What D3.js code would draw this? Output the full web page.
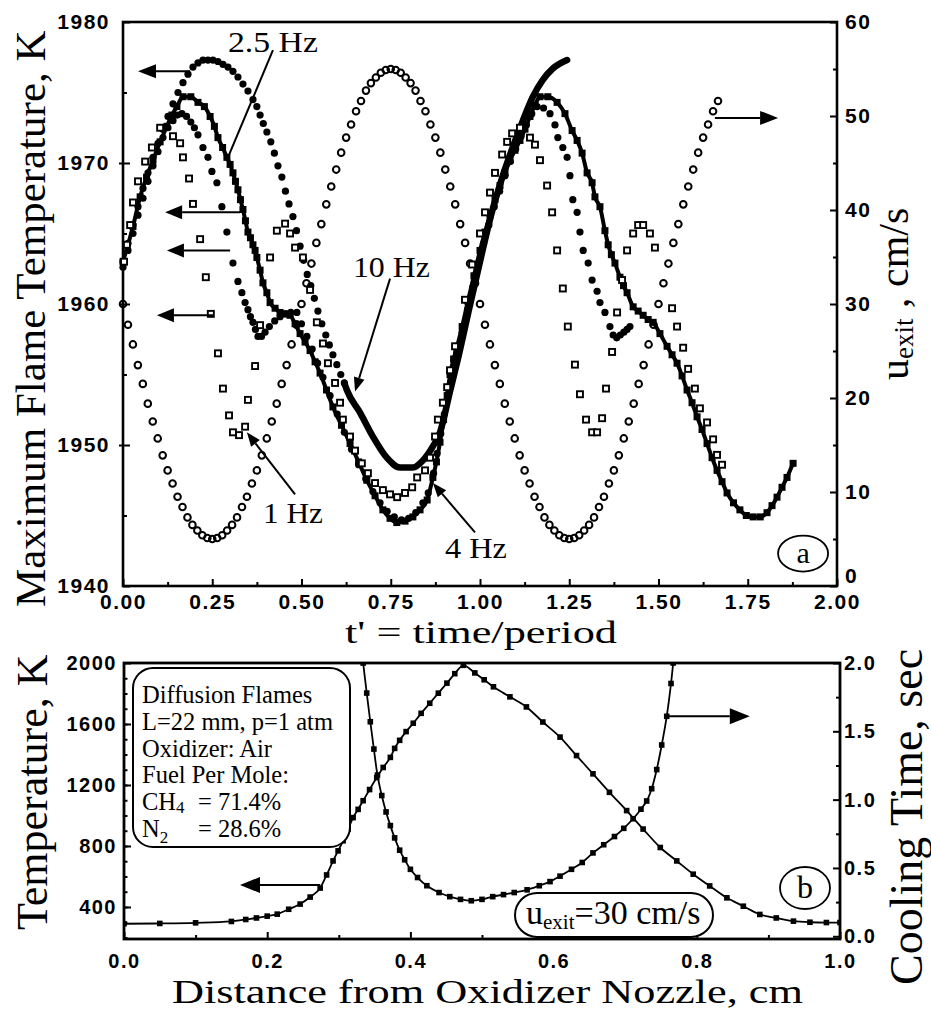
<!DOCTYPE html>
<html>
<head>
<meta charset="utf-8">
<script src="https://cdnjs.cloudflare.com/ajax/libs/d3/7.8.5/d3.min.js"></script>
<style>
  body { margin: 0; background: #fff; }
  svg text { fill: #000; }
</style>
</head>
<body>
<script>
// ---------- panel (a) data ----------
// exit velocity, open circles (right axis), sampled every 1/72 of a period
const uExitStep = 1 / 72;
const uExit = [30.0,27.8,25.7,23.5,21.5,19.4,17.5,15.7,13.9,12.3,10.9,9.5,8.4,7.3,6.5,5.9,5.4,5.1,5.0,
  5.1,5.4,5.9,6.5,7.3,8.4,9.5,10.9,12.3,13.9,15.7,17.5,19.4,21.5,23.5,25.7,27.8,30.0,
  32.2,34.3,36.5,38.5,40.6,42.5,44.3,46.1,47.7,49.1,50.5,51.6,52.7,53.5,54.1,54.6,54.9,55.0,
  54.9,54.6,54.1,53.5,52.7,51.6,50.5,49.1,47.7,46.1,44.3,42.5,40.6,38.5,36.5,34.3,32.2,
  30.0,27.8,25.7,23.5,21.5,19.4,17.5,15.7,13.9,12.3,10.9,9.5,8.4,7.3,6.5,5.9,5.4,5.1,5.0,
  5.1,5.4,5.9,6.5,7.3,8.4,9.5,10.9,12.3,13.9,15.7,17.5,19.4,21.5,23.5,25.7,27.8,30.0,
  32.2,34.3,36.5,38.5,40.6,42.5,44.3,46.1,47.7,49.1,50.5,51.6];

// 1 Hz, open squares  [t', T]
const hz1 = [[.003,1963.0],[.011,1964.2],[.020,1965.6],[.028,1967.2],[.042,1968.7],[.062,1970.1],[.081,1971.1],[.104,1972.5],
  [.140,1971.9],[.160,1971.4],[.168,1970.4],[.185,1968.9],[.196,1967.1],[.216,1964.6],[.232,1961.9],[.246,1959.3],
  [.266,1956.5],[.280,1954.0],[.297,1952.1],[.308,1950.9],[.325,1950.7],[.342,1951.3],[.350,1953.2],[.370,1955.6],
  [.384,1958.5],[.412,1963.3],[.431,1965.2],[.454,1965.7],[.468,1965.0],[.482,1964.0],[.504,1963.3],[.524,1961.0],
  [.543,1958.7],[.560,1957.2],[.574,1955.8],[.594,1954.4],[.608,1953.0],[.616,1951.8],[.636,1950.6],[.650,1949.6],
  [.669,1948.7],[.686,1948.0],[.706,1947.3],[.728,1946.8],[.748,1946.5],[.768,1946.3],[.790,1946.6],[.810,1947.0],
  [.824,1947.7],[.846,1948.2],[.860,1949.1],[.874,1950.6],[.882,1951.8],[.896,1953.0],[.908,1954.1],[.916,1955.3],
  [.930,1957.0],[.958,1960.3],[.978,1962.8],[1.000,1965.0],[1.014,1966.5],[1.028,1967.9],[1.042,1969.3],[1.062,1970.6],
  [1.076,1971.5],[1.090,1972.1],[1.112,1972.5],[1.140,1971.8],[1.154,1971.3],[1.168,1970.2],[1.188,1968.4],[1.202,1966.5],
  [1.216,1963.8],[1.232,1961.1],[1.246,1958.4],[1.266,1955.7],[1.280,1953.6],[1.297,1951.8],[1.314,1950.9],[1.328,1950.9],
  [1.342,1951.9],[1.353,1954.0],[1.370,1956.6],[1.384,1959.4],[1.398,1961.7],[1.412,1963.8],[1.429,1965.0],[1.443,1965.6],
  [1.457,1965.6],[1.476,1965.0],[1.490,1964.0],[1.538,1959.7],[1.552,1958.4],[1.569,1956.9],[1.583,1955.4],[1.602,1954.0],
  [1.616,1952.6],[1.636,1951.6],[1.653,1950.4],[1.664,1949.3],[1.678,1948.6]];

// 2.5 Hz, filled circles
const hz25 = [[0,1962.6],[.014,1963.8],[.028,1965.0],[.042,1966.3],[.056,1967.5],[.07,1968.7],[.084,1969.8],[.098,1970.8],
  [.112,1971.8],[.126,1972.5],[.14,1973.0],[.152,1973.4],[.165,1973.5],[.178,1973.3],[.19,1972.9],[.2,1972.5],[.21,1972.0],
  [.224,1971.1],[.238,1970.4],[.249,1969.4],[.263,1968.6],[.277,1966.9],[.291,1965.1],[.308,1962.9],[.322,1961.6],
  [.333,1960.8],[.342,1960.1],[.35,1959.6],[.357,1959.1],[.364,1958.7],[.371,1958.2],[.378,1957.7],[.388,1957.7],
  [.398,1958.0],[.41,1958.4],[.425,1958.8],[.44,1959.1],[.455,1959.3],[.47,1959.4],[.487,1959.4],[.5,1958.6],[.515,1957.7],
  [.53,1956.8],[.545,1955.8],[.56,1954.8],[.58,1953.5],[.6,1952.2],[.62,1950.9],[.64,1949.7],[.66,1948.6],[.68,1947.6],
  [.7,1946.7],[.72,1945.9],[.74,1945.3],[.76,1944.9],[.78,1944.7],[.8,1944.8],[.82,1945.2],[.84,1945.9],[.855,1946.6],
  [.87,1948.0],[.88,1949.4],[.89,1950.8],[.9,1952.2],[.91,1953.6],[.92,1955.0],[.935,1956.6],[.95,1958.0],[.965,1959.6],
  [.98,1961.2],[.995,1962.8],[1.01,1964.3],[1.025,1965.6],[1.04,1966.9],[1.055,1968.0],[1.07,1969.1],[1.085,1970.1],
  [1.1,1971.0],[1.115,1971.9],[1.13,1972.7],[1.145,1973.5],[1.16,1974.0],[1.178,1973.9],[1.196,1973.5],[1.21,1972.7],
  [1.218,1971.8],[1.232,1971.1],[1.244,1970.4],[1.252,1969.1],[1.26,1967.4],[1.272,1966.5],[1.28,1965.1],[1.289,1963.8],
  [1.303,1962.9],[1.314,1961.7],[1.328,1960.9],[1.336,1960.1],[1.35,1959.4],[1.364,1958.4],[1.373,1957.8],[1.383,1957.6],
  [1.393,1957.8],[1.403,1958.0],[1.412,1958.2],[1.42,1958.4]];

// 4 Hz, filled squares
const hz4 = [[0,1963.0],[.028,1965.5],[.048,1967.6],[.066,1969.0],[.084,1970.2],[.104,1971.5],[.123,1972.6],[.137,1973.4],
  [.151,1974.0],[.168,1974.7],[.19,1974.7],[.21,1974.3],[.228,1974.0],[.244,1973.3],[.256,1972.6],[.266,1971.8],[.279,1971.1],
  [.291,1970.4],[.3,1969.9],[.308,1969.3],[.315,1968.7],[.322,1968.1],[.329,1967.4],[.336,1966.7],[.343,1965.9],[.35,1965.1],
  [.357,1964.7],[.364,1964.2],[.37,1963.8],[.375,1963.3],[.384,1962.4],[.392,1961.5],[.403,1960.8],[.412,1960.1],
  [.426,1959.7],[.44,1959.4],[.454,1959.3],[.468,1959.2],[.482,1958.6],[.496,1957.9],[.51,1957.3],[.524,1956.7],
  [.538,1955.9],[.552,1955.1],[.57,1953.9],[.588,1952.7],[.612,1951.4],[.636,1950.1],[.66,1948.8],[.683,1947.5],
  [.706,1946.4],[.728,1945.4],[.748,1944.8],[.767,1944.5],[.79,1944.6],[.812,1944.9],[.832,1945.4],[.852,1946.1],
  [.868,1947.7],[.878,1948.8],[.888,1950.2],[.898,1951.8],[.908,1953.5],[.916,1955.0],[.926,1956.1],[.936,1957.0],
  [.95,1958.4],[.966,1960.2],[.983,1962.0],[1.0,1963.8],[1.014,1965.1],[1.028,1966.3],[1.042,1967.4],[1.056,1968.4],
  [1.07,1969.3],[1.084,1970.2],[1.098,1970.9],[1.112,1971.6],[1.126,1972.4],[1.14,1973.3],[1.154,1974.1],[1.168,1974.7],
  [1.19,1974.7],[1.216,1974.3],[1.238,1973.5],[1.258,1972.3],[1.272,1971.6],[1.286,1970.7],[1.3,1969.3],[1.314,1968.6],
  [1.322,1967.6],[1.336,1966.9],[1.35,1965.2],[1.359,1964.2],[1.368,1963.5],[1.378,1962.9],[1.392,1961.9],[1.402,1961.3],
  [1.412,1960.8],[1.429,1959.8],[1.443,1959.5],[1.457,1959.2],[1.471,1958.9],[1.485,1958.7],[1.504,1957.9],[1.524,1957.0],
  [1.538,1956.4],[1.552,1955.8],[1.566,1954.9],[1.58,1953.9],[1.594,1953.0],[1.608,1952.0],[1.622,1951.1],[1.636,1950.1],
  [1.65,1949.1],[1.664,1948.2],[1.678,1947.4],[1.692,1946.6],[1.71,1945.9],[1.728,1945.4],[1.746,1945.0],[1.765,1944.9],
  [1.785,1944.9],[1.804,1945.2],[1.818,1945.7],[1.832,1946.3],[1.846,1947.0],[1.86,1947.7],[1.877,1948.7]];

// 10 Hz: dotted part (first half) and the dense part drawn as a heavy line
const hz10Dots = [[0,1963.0],[.014,1964.3],[.028,1965.6],[.042,1966.9],[.056,1968.2],[.07,1969.3],[.084,1970.4],[.098,1971.4],
  [.112,1972.4],[.126,1973.3],[.14,1974.2],[.154,1975.0],[.168,1975.7],[.182,1976.3],[.196,1976.8],[.21,1977.1],[.224,1977.3],
  [.238,1977.3],[.252,1977.3],[.266,1977.2],[.28,1977.0],[.294,1976.8],[.308,1976.5],[.322,1976.1],[.336,1975.6],[.35,1975.1],
  [.364,1974.5],[.375,1974.0],[.384,1973.4],[.393,1972.8],[.403,1972.2],[.414,1971.5],[.424,1970.7],[.434,1969.8],
  [.445,1969.0],[.455,1968.0],[.465,1967.1],[.476,1966.2],[.486,1965.2],[.496,1964.1],[.506,1963.1],[.516,1962.1],
  [.526,1961.3],[.536,1960.4],[.546,1959.5],[.557,1958.6],[.568,1957.8],[.578,1957.1],[.588,1956.4],[.599,1955.7],
  [.61,1955.0],[.62,1954.4]];
const hz10Line = [[.62,1954.4],[.627,1953.9],[.664,1952.3],[.70,1950.6],[.739,1949.1],[.776,1948.4],[.812,1948.4],[.84,1948.9],
  [.868,1949.9],[.888,1950.9],[.916,1953.8],[.94,1956.3],[.97,1959.7],[1.0,1963.0],[1.03,1966.2],[1.06,1968.8],[1.09,1971.0],
  [1.12,1973.0],[1.148,1974.7],[1.176,1975.9],[1.204,1976.7],[1.244,1977.3]];

const topXTicks = [0, 0.25, 0.5, 0.75, 1, 1.25, 1.5, 1.75, 2];
const topLeftTicks = [1940, 1950, 1960, 1970, 1980];
const topRightTicks = [0, 10, 20, 30, 40, 50, 60];

// ---------- panel (b) data ----------
// [distance cm, temperature K]
const tempProfile = [[0,290],[.05,292],[.1,296],[.15,305],[.17,318],[.185,328],[.2,340],[.214,353],[.23,385],[.246,419],
  [.26,465],[.274,524],[.283,610],[.292,702],[.299,768],[.306,834],[.313,910],[.32,986],[.327,1040],[.334,1097],[.343,1170],
  [.353,1249],[.362,1315],[.372,1381],[.378,1440],[.385,1493],[.394,1550],[.404,1605],[.415,1670],[.427,1736],[.439,1802],
  [.451,1868],[.462,1930],[.474,1985],[.49,1935],[.503,1890],[.516,1844],[.539,1778],[.562,1712],[.585,1613],[.609,1514],
  [.632,1393],[.655,1273],[.678,1152],[.702,1032],[.725,911],[.749,790],[.772,702],[.795,615],[.818,538],[.842,460],
  [.865,405],[.888,351],[.911,328],[.935,307],[.958,300],[.981,298],[1.0,298]];
// [distance cm, cooling time s]
const coolTime = [[.334,2.0],[.339,1.78],[.344,1.57],[.349,1.37],[.354,1.18],[.36,1.03],[.366,0.91],[.372,0.81],[.378,0.72],
  [.385,0.63],[.392,0.56],[.4,0.49],[.41,0.43],[.423,0.37],[.44,0.32],[.455,0.29],[.47,0.27],[.485,0.26],[.5,0.27],
  [.515,0.29],[.53,0.305],[.545,0.32],[.563,0.34],[.58,0.37],[.595,0.40],[.609,0.44],[.625,0.49],[.64,0.54],[.655,0.61],
  [.67,0.67],[.685,0.73],[.698,0.79],[.711,0.86],[.722,0.93],[.73,0.99],[.737,1.08],[.744,1.22],[.751,1.40],[.758,1.61],
  [.764,1.85],[.767,2.0]];

const botXTicks = [0, 0.2, 0.4, 0.6, 0.8, 1.0];
const botLeftTicks = [400, 800, 1200, 1600, 2000];
const botRightTicks = [0, 0.5, 1.0, 1.5, 2.0];
const legendLines = ["Diffusion Flames", "L=22 mm, p=1 atm", "Oxidizer: Air", "Fuel Per Mole:"];

// ---------- setup ----------
const serif = "'Liberation Serif','Times New Roman',serif";
const sans = "'Liberation Sans',Arial,sans-serif";

const svg = d3.select("body").append("svg")
  .attr("width", 931).attr("height", 1012)
  .style("font-family", serif);

const xA = d3.scaleLinear().domain([0, 2]).range([123, 837]);
const yA = d3.scaleLinear().domain([1940, 1980]).range([586, 22]);
const yAr = d3.scaleLinear().domain([0, 60]).range([586, 22]);

const xB = d3.scaleLinear().domain([0, 1]).range([124, 840]);
const yB = d3.scaleLinear().domain([190, 2000]).range([939, 663]);
const yBr = d3.scaleLinear().domain([-0.02, 2.0]).range([939, 663]);

function styleAxis(g, fs) {
  g.select(".domain").remove();
  g.selectAll(".tick line").attr("stroke", "#000").attr("stroke-width", 2);
  g.selectAll("text")
    .attr("font-family", sans).attr("font-weight", "bold")
    .attr("font-size", fs).style("letter-spacing", "1.5px").attr("fill", "#000");
}

function arrow(g, x1, y1, x2, y2, len, hw) {
  const a = Math.atan2(y2 - y1, x2 - x1);
  const bx = x2 - len * Math.cos(a), by = y2 - len * Math.sin(a);
  g.append("line").attr("x1", x1).attr("y1", y1).attr("x2", bx).attr("y2", by)
    .attr("stroke", "#000").attr("stroke-width", 2);
  const px = -Math.sin(a) * hw, py = Math.cos(a) * hw;
  g.append("polygon")
    .attr("points", `${x2},${y2} ${bx + px},${by + py} ${bx - px},${by - py}`)
    .attr("fill", "#000");
}

// ---------- panel (a) ----------
const ga = svg.append("g");

// axes
ga.append("g").attr("transform", `translate(${xA(0)},0)`)
  .call(d3.axisLeft(yA).tickValues(topLeftTicks).tickSize(-7).tickPadding(13).tickFormat(d3.format("d")))
  .call(g => styleAxis(g, 21));
ga.append("g").attr("transform", `translate(${xA(0)},0)`)
  .call(d3.axisLeft(yA).tickValues(d3.range(1945, 1980, 10)).tickSize(-4).tickFormat(""))
  .call(g => styleAxis(g, 21));
ga.append("g").attr("transform", `translate(${xA(0)},0)`)
  .call(d3.axisLeft(yA).tickValues(topLeftTicks.slice(1, 4)).tickSize(4).tickFormat(""))
  .call(g => styleAxis(g, 21));

ga.append("g").attr("transform", `translate(${xA(2)},0)`)
  .call(d3.axisRight(yAr).tickValues(topRightTicks).tickSize(-7).tickPadding(8))
  .call(g => styleAxis(g, 21))
  .call(g => g.selectAll("text").filter(d => d === 0).attr("dy", "-0.15em"));
ga.append("g").attr("transform", `translate(${xA(2)},0)`)
  .call(d3.axisRight(yAr).tickValues(d3.range(5, 60, 10)).tickSize(-4).tickFormat(""))
  .call(g => styleAxis(g, 21));

ga.append("g").attr("transform", `translate(0,${yA(1940)})`)
  .call(d3.axisBottom(xA).tickValues(topXTicks).tickSize(-7).tickPadding(8).tickFormat(d3.format(".2f")))
  .call(g => styleAxis(g, 21));
ga.append("g").attr("transform", `translate(0,${yA(1940)})`)
  .call(d3.axisBottom(xA).tickValues(d3.range(0.125, 2, 0.25)).tickSize(-4).tickFormat(""))
  .call(g => styleAxis(g, 21));

ga.append("rect")
  .attr("x", xA(0)).attr("y", yA(1980))
  .attr("width", xA(2) - xA(0)).attr("height", yA(1940) - yA(1980))
  .attr("fill", "none").attr("stroke", "#000").attr("stroke-width", 2.6);

// velocity, open circles
ga.append("g").selectAll("circle")
  .data(uExit)
  .join("circle")
  .attr("cx", (d, i) => xA(i * uExitStep))
  .attr("cy", d => yAr(d))
  .attr("r", 3.3)
  .attr("fill", "none").attr("stroke", "#000").attr("stroke-width", 2);

// 4 Hz: heavy band of filled squares
ga.append("path")
  .datum(hz4)
  .attr("d", d3.line().x(d => xA(d[0])).y(d => yA(d[1])).curve(d3.curveMonotoneX))
  .attr("fill", "none").attr("stroke", "#000").attr("stroke-width", 4);
ga.append("g").selectAll("rect")
  .data(hz4)
  .join("rect")
  .attr("x", d => xA(d[0]) - 3.5).attr("y", d => yA(d[1]) - 3.5)
  .attr("width", 7).attr("height", 7).attr("fill", "#000");

// 2.5 Hz: filled circles
ga.append("g").selectAll("circle")
  .data(hz25)
  .join("circle")
  .attr("cx", d => xA(d[0])).attr("cy", d => yA(d[1]))
  .attr("r", 3.6).attr("fill", "#000");

// 10 Hz
ga.append("g").selectAll("circle")
  .data(hz10Dots)
  .join("circle")
  .attr("cx", d => xA(d[0])).attr("cy", d => yA(d[1]))
  .attr("r", 3.6).attr("fill", "#000");
ga.append("path")
  .datum(hz10Line)
  .attr("d", d3.line().x(d => xA(d[0])).y(d => yA(d[1])).curve(d3.curveMonotoneX))
  .attr("fill", "none").attr("stroke", "#000").attr("stroke-width", 6.5)
  .attr("stroke-linecap", "round");

// 1 Hz: open squares
ga.append("g").selectAll("rect")
  .data(hz1)
  .join("rect")
  .attr("x", d => xA(d[0]) - 3).attr("y", d => yA(d[1]) - 3)
  .attr("width", 6).attr("height", 6)
  .attr("fill", "#fff").attr("stroke", "#000").attr("stroke-width", 1.9);

// axis pointers
arrow(ga, xA(0.188), yA(1976.5), xA(0.042), yA(1976.5), 18, 7);
arrow(ga, xA(0.328), yA(1966.5), xA(0.118), yA(1966.5), 17, 7);
arrow(ga, xA(0.30), yA(1963.8), xA(0.123), yA(1963.8), 17, 7);
arrow(ga, xA(0.252), yA(1959.2), xA(0.095), yA(1959.2), 17, 7);
arrow(ga, xA(1.658), yAr(49.8), xA(1.835), yAr(49.8), 18, 7);

// frequency labels
ga.append("text").attr("x", xA(0.294)).attr("y", yA(1977.9))
  .attr("font-size", 29).attr("textLength", 90).attr("lengthAdjust", "spacingAndGlyphs").text("2.5 Hz");
ga.append("line")
  .attr("x1", xA(0.42)).attr("y1", yA(1978.0)).attr("x2", xA(0.294)).attr("y2", yA(1970.4))
  .attr("stroke", "#000").attr("stroke-width", 2);

ga.append("text").attr("x", xA(0.644)).attr("y", yA(1961.9))
  .attr("font-size", 29).attr("textLength", 77).attr("lengthAdjust", "spacingAndGlyphs").text("10 Hz");
arrow(ga, xA(0.748), yA(1961.8), xA(0.65), yA(1953.8), 14, 5.5);

ga.append("text").attr("x", xA(0.392)).attr("y", yA(1944.5))
  .attr("font-size", 29).attr("textLength", 60).attr("lengthAdjust", "spacingAndGlyphs").text("1 Hz");
arrow(ga, xA(0.482), yA(1946.5), xA(0.347), yA(1950.9), 14, 5.5);

ga.append("text").attr("x", xA(0.902)).attr("y", yA(1942.0))
  .attr("font-size", 29).attr("textLength", 62).attr("lengthAdjust", "spacingAndGlyphs").text("4 Hz");
arrow(ga, xA(0.986), yA(1943.8), xA(0.868), yA(1947.3), 14, 5.5);

// panel tag
ga.append("ellipse").attr("cx", xA(1.905)).attr("cy", yA(1942.3)).attr("rx", 25).attr("ry", 18)
  .attr("fill", "none").attr("stroke", "#000").attr("stroke-width", 1.8);
ga.append("text").attr("x", xA(1.905)).attr("y", yA(1942.3) + 9)
  .attr("text-anchor", "middle").attr("font-size", 30).text("a");

// axis titles
ga.append("text")
  .attr("transform", "translate(45,607) rotate(-90)")
  .attr("font-size", 43).text("Maximum Flame Temperature, K");
ga.append("text")
  .attr("x", 345).attr("y", 643)
  .attr("font-size", 32).attr("textLength", 272).attr("lengthAdjust", "spacingAndGlyphs")
  .text("t' = time/period");
const uLab = ga.append("text")
  .attr("transform", "translate(908,380) rotate(-90)")
  .attr("font-size", 42);
uLab.append("tspan").text("u");
uLab.append("tspan").attr("font-size", 27).attr("dy", 5).text("exit");
uLab.append("tspan").attr("dy", -5).text(" , cm/s");

// ---------- panel (b) ----------
const gb = svg.append("g");

gb.append("defs").append("clipPath").attr("id", "clipB")
  .append("rect").attr("x", xB(0)).attr("y", yB(2000))
  .attr("width", xB(1) - xB(0)).attr("height", yB(190) - yB(2000));

gb.append("g").attr("transform", `translate(${xB(0)},0)`)
  .call(d3.axisLeft(yB).tickValues(botLeftTicks).tickSize(-7).tickPadding(7).tickFormat(d3.format("d")))
  .call(g => styleAxis(g, 20));
gb.append("g").attr("transform", `translate(${xB(0)},0)`)
  .call(d3.axisLeft(yB).tickValues(d3.range(200, 2000, 100)).tickSize(-3.5).tickFormat(""))
  .call(g => styleAxis(g, 20));

gb.append("g").attr("transform", `translate(${xB(1)},0)`)
  .call(d3.axisRight(yBr).tickValues(botRightTicks).tickSize(-7).tickPadding(4).tickFormat(d3.format(".1f")))
  .call(g => styleAxis(g, 20));
gb.append("g").attr("transform", `translate(${xB(1)},0)`)
  .call(d3.axisRight(yBr).tickValues(d3.range(0.25, 2, 0.5)).tickSize(-4).tickFormat(""))
  .call(g => styleAxis(g, 20));

gb.append("g").attr("transform", `translate(0,${yB(190)})`)
  .call(d3.axisBottom(xB).tickValues(botXTicks).tickSize(-7).tickPadding(15).tickFormat(d3.format(".1f")))
  .call(g => styleAxis(g, 20));
gb.append("g").attr("transform", `translate(0,${yB(190)})`)
  .call(d3.axisBottom(xB).tickValues(d3.range(0.1, 1, 0.2)).tickSize(-4).tickFormat(""))
  .call(g => styleAxis(g, 20));

gb.append("rect")
  .attr("x", xB(0)).attr("y", yB(2000))
  .attr("width", xB(1) - xB(0)).attr("height", yB(190) - yB(2000))
  .attr("fill", "none").attr("stroke", "#000").attr("stroke-width", 2.8);

const series = gb.append("g").attr("clip-path", "url(#clipB)");

series.append("path")
  .datum(tempProfile)
  .attr("d", d3.line().x(d => xB(d[0])).y(d => yB(d[1])).curve(d3.curveMonotoneX))
  .attr("fill", "none").attr("stroke", "#000").attr("stroke-width", 1.8);
series.append("g").selectAll("rect")
  .data(tempProfile)
  .join("rect")
  .attr("x", d => xB(d[0]) - 2.8).attr("y", d => yB(d[1]) - 2.8)
  .attr("width", 5.6).attr("height", 5.6).attr("fill", "#000");

series.append("path")
  .datum(coolTime)
  .attr("d", d3.line().x(d => xB(d[0])).y(d => yBr(d[1])).curve(d3.curveCatmullRom))
  .attr("fill", "none").attr("stroke", "#000").attr("stroke-width", 1.8);
series.append("g").selectAll("rect")
  .data(coolTime)
  .join("rect")
  .attr("x", d => xB(d[0]) - 2.8).attr("y", d => yBr(d[1]) - 2.8)
  .attr("width", 5.6).attr("height", 5.6).attr("fill", "#000");

arrow(gb, xB(0.274), yB(544), xB(0.162), yB(544), 20, 8);
arrow(gb, xB(0.76), yBr(1.61), xB(0.874), yBr(1.61), 20, 8);

// legend box
gb.append("rect").attr("x", 133).attr("y", 668).attr("width", 217).attr("height", 179)
  .attr("rx", 20).attr("ry", 20)
  .attr("fill", "#fff").attr("stroke", "#000").attr("stroke-width", 2);
gb.append("g").selectAll("text")
  .data(legendLines)
  .join("text")
  .attr("x", 142).attr("y", (d, i) => 703 + i * 26.8)
  .attr("font-size", 24.5)
  .text(d => d);
const ch4 = gb.append("text").attr("x", 142).attr("y", 703 + 4 * 26.8).attr("font-size", 24.5);
ch4.append("tspan").text("CH");
ch4.append("tspan").attr("font-size", 17).attr("dy", 3).text("4");
ch4.append("tspan").attr("x", 198).attr("dy", -3).text("= 71.4%");
const n2 = gb.append("text").attr("x", 142).attr("y", 703 + 5 * 26.8).attr("font-size", 24.5);
n2.append("tspan").text("N");
n2.append("tspan").attr("font-size", 17).attr("dy", 6).text("2");
n2.append("tspan").attr("x", 198).attr("dy", -6).text("= 28.6%");

// exit velocity pill
gb.append("rect").attr("x", 515).attr("y", 893).attr("width", 198).attr("height", 44)
  .attr("rx", 22).attr("ry", 22)
  .attr("fill", "#fff").attr("stroke", "#000").attr("stroke-width", 2);
const pill = gb.append("text").attr("x", 526).attr("y", 924).attr("font-size", 34);
pill.append("tspan").text("u");
pill.append("tspan").attr("font-size", 21).attr("dy", 5).text("exit");
pill.append("tspan").attr("dy", -5).text("=30 cm/s");

// panel tag
gb.append("ellipse").attr("cx", 805).attr("cy", 888).attr("rx", 25).attr("ry", 21)
  .attr("fill", "none").attr("stroke", "#000").attr("stroke-width", 1.8);
gb.append("text").attr("x", 805).attr("y", 898)
  .attr("text-anchor", "middle").attr("font-size", 32).text("b");

// axis titles
gb.append("text")
  .attr("transform", "translate(47,930) rotate(-90)")
  .attr("font-size", 44).text("Temperature, K");
gb.append("text")
  .attr("transform", "translate(922,985) rotate(-90)")
  .attr("font-size", 46).text("Cooling Time, sec");
gb.append("text")
  .attr("x", 172).attr("y", 1003)
  .attr("font-size", 33).attr("textLength", 631).attr("lengthAdjust", "spacingAndGlyphs")
  .text("Distance from Oxidizer Nozzle, cm");
</script>
</body>
</html>
